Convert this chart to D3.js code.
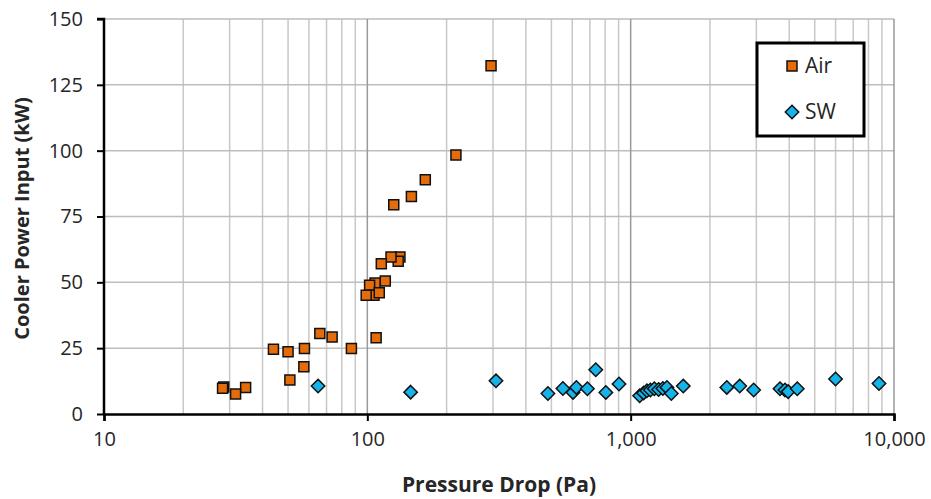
<!DOCTYPE html>
<html>
<head>
<meta charset="utf-8">
<script src="https://cdn.jsdelivr.net/npm/d3@7"></script>
<style>
  body { margin: 0; background: #fff; }
  svg text { font-family: "Open Sans", Lato, sans-serif; fill: #262626; }
</style>
</head>
<body>
<div id="chart"></div>
<script>
// pressure drop (Pa) vs cooler power input (kW)
var airDrop = [295, 217, 166, 147, 126, 133, 131, 123, 113, 117, 107, 102, 106, 99, 111,
               108, 87, 73.5, 66, 57.7, 57.4, 50, 44, 50.8, 34.5, 31.6, 28.5, 28.2];
var airPower = [132.2, 98.4, 89, 82.6, 79.5, 59.6, 58, 59.6, 57.1, 50.5, 49.7, 48.9, 45.1, 45.1, 46,
                29, 24.9, 29.2, 30.6, 24.9, 17.9, 23.6, 24.6, 12.9, 10.1, 7.6, 10.3, 9.8];

var swDrop = [65, 146, 308, 485, 553, 604, 622, 685, 737, 805, 903, 1082, 1120, 1153, 1188,
              1230, 1277, 1325, 1373, 1427, 1584, 2318, 2595, 2931, 3690, 3855, 3963, 4292, 5998, 8770];
var swPower = [10.6, 8.3, 12.6, 7.8, 9.7, 8.2, 10.1, 9.6, 16.8, 8.2, 11.4, 6.9, 8, 8.8, 9.1,
               9.6, 9.3, 9.7, 10.1, 7.8, 10.6, 10.1, 10.6, 9.1, 9.6, 9.1, 8.5, 9.6, 13.3, 11.6];

var xTicks = [10, 100, 1000, 10000];
var yTicks = [0, 25, 50, 75, 100, 125, 150];
var seriesNames = ["Air", "SW"];

var margin = {top: 19, right: 37, bottom: 85, left: 104},
    width = 931 - margin.left - margin.right,
    height = 499 - margin.top - margin.bottom;

var svg = d3.select("#chart").append("svg")
  .attr("width", 931)
  .attr("height", 499);

var g = svg.append("g")
  .attr("transform", "translate(" + margin.left + "," + margin.top + ")");

var x = d3.scaleLog().domain([10, 10000]).range([0, width]);
var y = d3.scaleLinear().domain([0, 150]).range([height, 0]);

// minor grid (2..9 within each decade)
var minor = [];
xTicks.slice(0, -1).forEach(function(d) {
  for (var i = 2; i <= 9; i++) minor.push(d * i);
});
g.selectAll(".minor").data(minor).enter().append("line")
  .attr("x1", function(d) { return x(d); }).attr("x2", function(d) { return x(d); })
  .attr("y1", 0).attr("y2", height)
  .attr("stroke", "#c8c8c8").attr("stroke-width", 1.5);

g.selectAll(".hgrid").data(yTicks.slice(1)).enter().append("line")
  .attr("x1", 0).attr("x2", width)
  .attr("y1", function(d) { return y(d); }).attr("y2", function(d) { return y(d); })
  .attr("stroke", "#bdbdbd").attr("stroke-width", 1.5);

g.selectAll(".major").data(xTicks.slice(1)).enter().append("line")
  .attr("x1", function(d) { return x(d); }).attr("x2", function(d) { return x(d); })
  .attr("y1", 0).attr("y2", height)
  .attr("stroke", "#9a9a9a").attr("stroke-width", 1.5);

// axes
var xAxis = d3.axisBottom(x).tickValues(xTicks).tickFormat(d3.format(",")).tickSize(7).tickPadding(11);
var xg = g.append("g").attr("transform", "translate(0," + height + ")").call(xAxis);
var yAxis = d3.axisLeft(y).tickValues(yTicks).tickSize(7).tickPadding(14);
var yg = g.append("g").call(yAxis);

[xg, yg].forEach(function(a) {
  a.select(".domain").attr("stroke", "#000").attr("stroke-width", 2.5);
  a.selectAll(".tick line").attr("stroke", "#000").attr("stroke-width", 2);
  a.selectAll(".tick text").attr("font-size", 20).attr("font-family", "'Open Sans', sans-serif").attr("fill", "#262626");
});
yg.select(".domain").attr("d", "M-7,0H0V" + height);

// points
var air = airDrop.map(function(d, i) { return [d, airPower[i]]; });
var sw = swDrop.map(function(d, i) { return [d, swPower[i]]; });

var sq = d3.symbol().type(d3.symbolSquare).size(100);
var dm = d3.symbol().type(d3.symbolDiamond2).size(115);

g.selectAll(".air").data(air).enter().append("path")
  .attr("d", sq)
  .attr("transform", function(d) { return "translate(" + x(d[0]) + "," + y(d[1]) + ")"; })
  .attr("fill", "#e46c0a").attr("stroke", "#111").attr("stroke-width", 1.5);

g.selectAll(".sw").data(sw).enter().append("path")
  .attr("d", dm)
  .attr("transform", function(d) { return "translate(" + x(d[0]) + "," + y(d[1]) + ")"; })
  .attr("fill", "#14b4ea").attr("stroke", "#111").attr("stroke-width", 1.5);

// axis titles
svg.append("text")
  .attr("x", margin.left + width / 2).attr("y", 492)
  .attr("text-anchor", "middle").attr("font-size", 21).attr("font-weight", "bold")
  .text("Pressure Drop (Pa)");

svg.append("text")
  .attr("transform", "translate(29," + (margin.top + height / 2 + 2) + ") rotate(-90)")
  .attr("text-anchor", "middle").attr("font-size", 20).attr("font-weight", "bold")
  .text("Cooler Power Input (kW)");

// legend
var lg = svg.append("g").attr("transform", "translate(757,43)");
lg.append("rect").attr("width", 107).attr("height", 93)
  .attr("fill", "#fff").attr("stroke", "#000").attr("stroke-width", 3);
lg.append("path").attr("d", sq).attr("transform", "translate(35,23)")
  .attr("fill", "#e46c0a").attr("stroke", "#111").attr("stroke-width", 1.5);
lg.append("path").attr("d", dm).attr("transform", "translate(35,69)")
  .attr("fill", "#14b4ea").attr("stroke", "#111").attr("stroke-width", 1.5);
lg.selectAll(".lt").data(seriesNames).enter().append("text")
  .attr("x", 48).attr("y", function(d, i) { return 30 + i * 46; })
  .attr("font-size", 21)
  .text(function(d) { return d; });
</script>
</body>
</html>
